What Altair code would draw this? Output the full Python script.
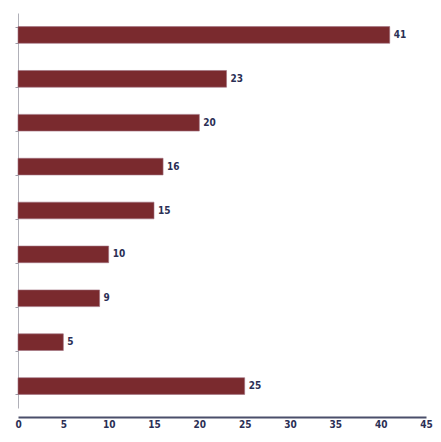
import altair as alt
import pandas as pd

categories = ["c1", "c2", "c3", "c4", "c5", "c6", "c7", "c8", "c9"]
values = [41, 23, 20, 16, 15, 10, 9, 5, 25]
x_ticks = [0, 5, 10, 15, 20, 25, 30, 35, 40, 45]

df = pd.DataFrame({"cat": categories, "val": values})

font = "DejaVu Sans Condensed"
label_color = "#2b2f55"

y_enc = alt.Y("cat:N", sort=categories,
              scale=alt.Scale(paddingInner=0.62, paddingOuter=0.31),
              axis=alt.Axis(title=None, labels=False, ticks=True, tickSize=3,
                            tickColor="#9a9aa6", domainColor="#b0b0b8",
                            tickBand="extent", domainWidth=1))
x_enc = alt.X("val:Q", scale=alt.Scale(domain=[0, 45], nice=False),
              axis=alt.Axis(title=None, values=x_ticks, grid=False, ticks=False,
                            domainColor="#4a4f6a", domainWidth=2, offset=9,
                            labelFont=font, labelFontWeight="bold",
                            labelColor=label_color, labelFontSize=10,
                            labelPadding=2, labelOverlap=False, labelFlush=False))

bars = alt.Chart(df).mark_bar(color="#7a2a2e", stroke="#a07080", strokeWidth=0.6).encode(
    x=x_enc, y=y_enc)
text = alt.Chart(df).mark_text(align="left", dx=4, font=font, fontWeight="bold",
                               fontSize=10, color=label_color).encode(
    x="val:Q", y=alt.Y("cat:N", sort=categories), text="val:Q")

chart = (bars + text).properties(
    width=408, height=395,
    autosize=alt.AutoSizeParams(type="none"),
    padding={"left": 10, "top": 5, "right": 7, "bottom": 25},
).configure_view(stroke=None)

chart.save("out.html", embed_options={"renderer": "svg", "actions": False})
